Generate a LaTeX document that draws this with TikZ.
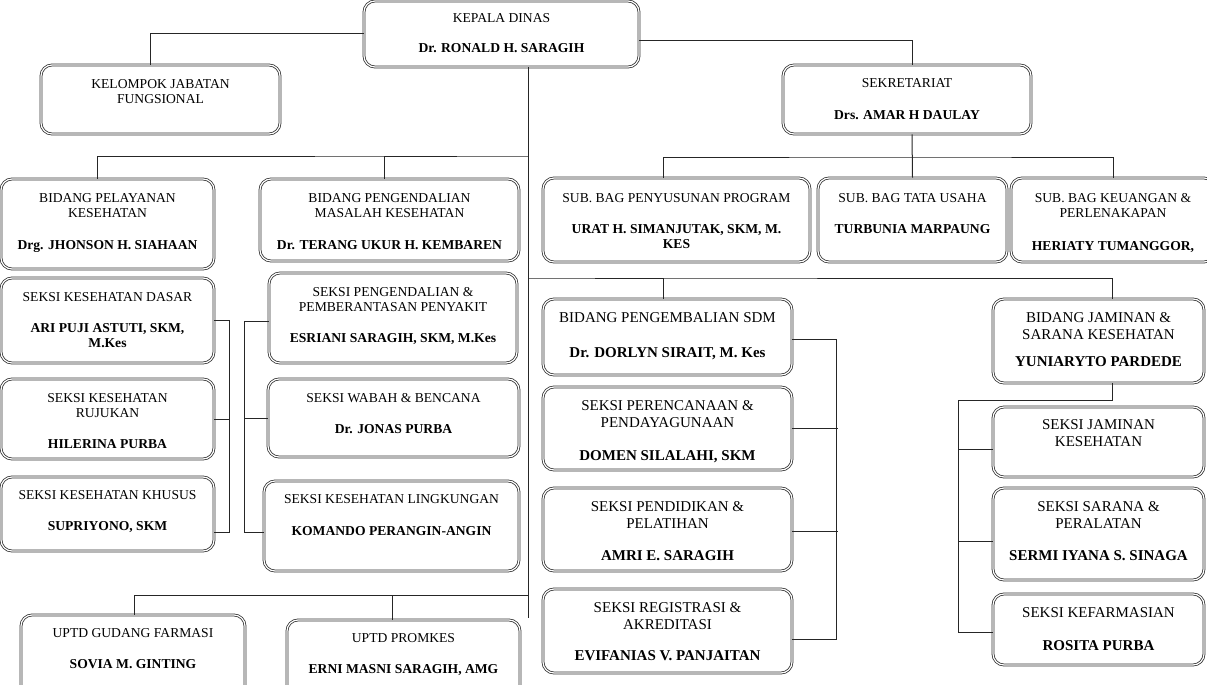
\documentclass[tikz,border=0pt]{standalone}
\usepackage{fontspec}
\setmainfont{Liberation Serif}
\usetikzlibrary{positioning,fit,calc}

\tikzset{
  unit/.style={draw=black!80, double=white, double distance=1.2pt, line width=0.8pt,
    rounded corners=11pt, inner sep=0pt},
  lbl/.style={align=center, inner sep=0pt, font=\fontsize{13.6}{15.5}\selectfont},
  lblbig/.style={lbl, font=\fontsize{15}{17}\selectfont},
  link/.style={draw=black!85, line width=1pt}
}

\begin{document}
\begin{tikzpicture}[x=1pt,y=-1pt]
\clip (0,0) rectangle (1207,685);

% boxes
\node[unit, fit={(364,1) (639,67)}] (kadis) {};
\node[unit, fit={(41,65) (280,134)}] (kjf) {};
\node[unit, fit={(783,65) (1031,134)}] (sekr) {};
\node[unit, fit={(1,179) (214,269)}] (bpk) {};
\node[unit, fit={(260,179) (519,261)}] (bppm) {};
\node[unit, fit={(543,178) (810,262)}] (sbp) {};
\node[unit, fit={(818,178) (1007,262)}] (sbtu) {};
\node[unit, fit={(1011,178) (1215,262)}] (sbk) {};
\node[unit, fit={(1,278) (214,363)}] (dasar) {};
\node[unit, fit={(1,379) (214,459)}] (rujukan) {};
\node[unit, fit={(1,477) (214,551)}] (khusus) {};
\node[unit, fit={(269,273) (517,363)}] (ppp) {};
\node[unit, fit={(268,379) (519,457)}] (wabah) {};
\node[unit, fit={(264,481) (519,571)}] (kesling) {};
\node[unit, fit={(543,299) (792,375)}] (sdm) {};
\node[unit, fit={(543,387) (792,470)}] (perenc) {};
\node[unit, fit={(543,488) (792,571)}] (diklat) {};
\node[unit, fit={(543,589) (792,673)}] (regis) {};
\node[unit, fit={(993,299) (1204,383)}] (jamsar) {};
\node[unit, fit={(993,407) (1204,477)}] (jamkes) {};
\node[unit, fit={(993,488) (1204,580)}] (sarana) {};
\node[unit, fit={(993,594) (1204,665)}] (farmasi) {};
\node[unit, fit={(21,615) (245,700)}] (gudang) {};
\node[unit, fit={(287,620) (520,700)}] (promkes) {};

% texts
\node[lbl, below=12.5pt of kadis.north] (kadis-t) {KEPALA DINAS\\[15pt]\textbf{Dr. RONALD H. SARAGIH}};
\node[lbl, below=14.5pt of kjf.north] (kjf-t) {KELOMPOK JABATAN\\FUNGSIONAL};
\node[lbl, below=13.5pt of sekr.north] (sekr-t) {SEKRETARIAT\\[16.5pt]\textbf{Drs. AMAR H DAULAY}};
\node[lbl, below=14.5pt of bpk.north] (bpk-t) {BIDANG PELAYANAN\\KESEHATAN\\[16pt]\textbf{Drg. JHONSON H. SIAHAAN}};
\node[lbl, below=14.5pt of bppm.north] (bppm-t) {BIDANG PENGENDALIAN\\MASALAH KESEHATAN\\[16pt]\textbf{Dr. TERANG UKUR H. KEMBAREN}};
\node[lbl, below=15.5pt of sbp.north] (sbp-t) {SUB. BAG PENYUSUNAN PROGRAM\\[15.5pt]\textbf{URAT H. SIMANJUTAK, SKM, M.}\\\textbf{KES}};
\node[lbl, below=15.5pt of sbtu.north] (sbtu-t) {SUB. BAG TATA USAHA\\[15.5pt]\textbf{TURBUNIA MARPAUNG}};
\node[lbl, below=15.5pt of sbk.north] (sbk-t) {SUB. BAG KEUANGAN \&\\PERLENAKAPAN\\[17pt]\textbf{HERIATY TUMANGGOR,}};
\node[lbl, below=14.5pt of dasar.north] (dasar-t) {SEKSI KESEHATAN DASAR\\[15.5pt]\textbf{ARI PUJI ASTUTI, SKM,}\\\textbf{M.Kes}};
\node[lbl, below=14.5pt of rujukan.north] (rujukan-t) {SEKSI KESEHATAN\\RUJUKAN\\[15.5pt]\textbf{HILERINA PURBA}};
\node[lbl, below=13.5pt of khusus.north] (khusus-t) {SEKSI KESEHATAN KHUSUS\\[15.5pt]\textbf{SUPRIYONO, SKM}};
\node[lbl, below=14.5pt of ppp.north] (ppp-t) {SEKSI PENGENDALIAN \&\\PEMBERANTASAN PENYAKIT\\[15.5pt]\textbf{ESRIANI SARAGIH, SKM, M.Kes}};
\node[lbl, below=14.5pt of wabah.north] (wabah-t) {SEKSI WABAH \& BENCANA\\[15.5pt]\textbf{Dr. JONAS PURBA}};
\node[lbl, below=13.5pt of kesling.north] (kesling-t) {SEKSI KESEHATAN LINGKUNGAN\\[16.5pt]\textbf{KOMANDO PERANGIN-ANGIN}};
\node[lblbig, below=13.5pt of sdm.north] (sdm-t) {BIDANG PENGEMBALIAN SDM\\[18pt]\textbf{Dr. DORLYN SIRAIT, M. Kes}};
\node[lblbig, below=13.5pt of perenc.north] (perenc-t) {SEKSI PERENCANAAN \&\\PENDAYAGUNAAN\\[16pt]\textbf{DOMEN SILALAHI, SKM}};
\node[lblbig, below=13.5pt of diklat.north] (diklat-t) {SEKSI PENDIDIKAN \&\\PELATIHAN\\[15pt]\textbf{AMRI E. SARAGIH}};
\node[lblbig, below=13.5pt of regis.north] (regis-t) {SEKSI REGISTRASI \&\\AKREDITASI\\[14pt]\textbf{EVIFANIAS V. PANJAITAN}};
\node[lblbig, below=13.5pt of jamsar.north] (jamsar-t) {BIDANG JAMINAN \&\\SARANA KESEHATAN\\[10pt]\textbf{YUNIARYTO PARDEDE}};
\node[lblbig, below=12.5pt of jamkes.north] (jamkes-t) {SEKSI JAMINAN\\KESEHATAN};
\node[lblbig, below=13.5pt of sarana.north] (sarana-t) {SEKSI SARANA \&\\PERALATAN\\[15pt]\textbf{SERMI IYANA S. SINAGA}};
\node[lblbig, below=13.5pt of farmasi.north] (farmasi-t) {SEKSI KEFARMASIAN\\[16pt]\textbf{ROSITA PURBA}};
\node[lbl, below=13.5pt of gudang.north] (gudang-t) {UPTD GUDANG FARMASI\\[15.5pt]\textbf{SOVIA M. GINTING}};
\node[lbl, below=13.5pt of promkes.north] (promkes-t) {UPTD PROMKES\\[15.5pt]\textbf{ERNI MASNI SARAGIH, AMG}};

% junctions
\coordinate (j1) at (528,156);
\coordinate (j2) at (912,157);
\coordinate (j3) at (528,278);
\coordinate (j4) at (958,400);
\coordinate (j5) at (528,595);
\coordinate (trunk) at (528,618);

% lines
\draw[link] (kadis.west) -| ([xshift=-10.5pt]kjf.north);
\draw[link] ([yshift=-7pt]kadis.east) -| ([xshift=5pt]sekr.north);
\draw[link] (kadis.south -| trunk) -- (trunk);
\draw[link] ([xshift=-10.5pt]bpk.north) |- (j1) -| ([xshift=-5.5pt]bppm.north);
\draw[link] ([xshift=5pt]sekr.south) -- (sbtu.north);
\draw[link] ([xshift=-13.5pt]sbp.north) |- (j2) -| ([xshift=0pt]sbk.north);
\draw[link] ([xshift=-4.5pt]sdm.north) |- (j3) -| ([xshift=14pt]jamsar.north);
\draw[link] (dasar.east) -| ($(khusus.east)+(15,18)$) -- ([yshift=-18pt]khusus.east);
\draw[link] (rujukan.east) -- ++(15,0);
\draw[link] ([yshift=-3pt]ppp.west) -- ++(-24,0) |- ([yshift=-6pt]kesling.west);
\draw[link] (wabah.west) -- ++(-23,0);
\draw[link] ([yshift=-2pt]sdm.east) -- ++(44,0) |- ([yshift=-8pt]regis.east);
\draw[link] (perenc.east) -- ++(46,0);
\draw[link] ([yshift=-2pt]diklat.east) -- ++(46,0);
\draw[link] ([xshift=14pt]jamsar.south) |- (j4) |- ([yshift=-2.5pt]farmasi.west);
\draw[link] ([yshift=-7pt]jamkes.west) -- ++(-35,0);
\draw[link] ([yshift=-7pt]sarana.west) -- ++(-35,0);
\draw[link] (j5) -| ([xshift=1pt]gudang.north);
\draw[link] ([xshift=-11.5pt]promkes.north) -- ++(0,-25);
\end{tikzpicture}
\end{document}
